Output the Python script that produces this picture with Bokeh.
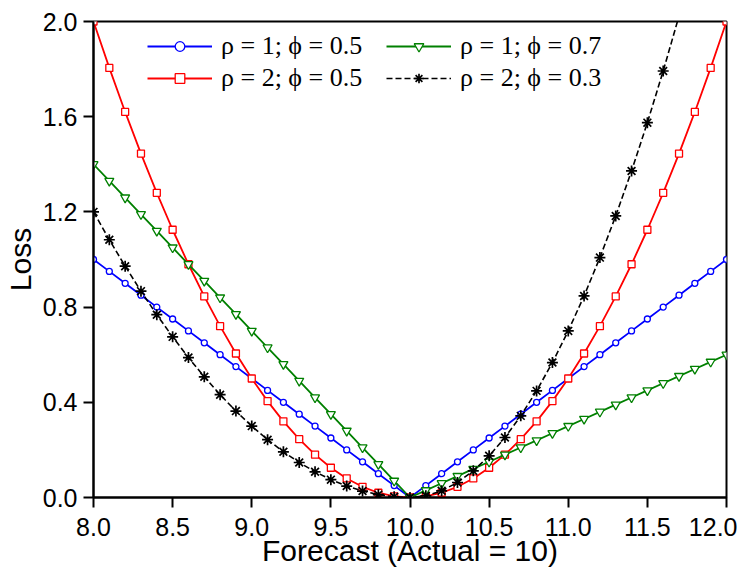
from bokeh.plotting import figure
from bokeh.models import Legend, LegendItem, FixedTicker, ColumnDataSource
from bokeh.embed import file_html
from bokeh.resources import INLINE

forecast = [8.0, 8.1, 8.2, 8.3, 8.4, 8.5, 8.6, 8.7, 8.8, 8.9, 9.0, 9.1, 9.2, 9.3, 9.4, 9.5,
            9.6, 9.7, 9.8, 9.9, 10.0, 10.1, 10.2, 10.3, 10.4, 10.5, 10.6, 10.7, 10.8, 10.9,
            11.0, 11.1, 11.2, 11.3, 11.4, 11.5, 11.6, 11.7, 11.8, 11.9, 12.0]

loss_r1_p05 = [1.0, 0.95, 0.9, 0.85, 0.8, 0.75, 0.7, 0.65, 0.6, 0.55, 0.5, 0.45, 0.4, 0.35, 0.3,
               0.25, 0.2, 0.15, 0.1, 0.05, 0.0, 0.05, 0.1, 0.15, 0.2, 0.25, 0.3, 0.35, 0.4, 0.45,
               0.5, 0.55, 0.6, 0.65, 0.7, 0.75, 0.8, 0.85, 0.9, 0.95, 1.0]
loss_r2_p05 = [2.0, 1.805, 1.62, 1.445, 1.28, 1.125, 0.98, 0.845, 0.72, 0.605, 0.5, 0.405, 0.32,
               0.245, 0.18, 0.125, 0.08, 0.045, 0.02, 0.005, 0.0, 0.005, 0.02, 0.045, 0.08, 0.125,
               0.18, 0.245, 0.32, 0.405, 0.5, 0.605, 0.72, 0.845, 0.98, 1.125, 1.28, 1.445, 1.62,
               1.805, 2.0]
loss_r1_p07 = [1.4, 1.33, 1.26, 1.19, 1.12, 1.05, 0.98, 0.91, 0.84, 0.77, 0.7, 0.63, 0.56, 0.49,
               0.42, 0.35, 0.28, 0.21, 0.14, 0.07, 0.0, 0.03, 0.06, 0.09, 0.12, 0.15, 0.18, 0.21,
               0.24, 0.27, 0.3, 0.33, 0.36, 0.39, 0.42, 0.45, 0.48, 0.51, 0.54, 0.57, 0.6]
loss_r2_p03 = [1.2, 1.083, 0.972, 0.867, 0.768, 0.675, 0.588, 0.507, 0.432, 0.363, 0.3, 0.243,
               0.192, 0.147, 0.108, 0.075, 0.048, 0.027, 0.012, 0.003, 0.0, 0.007, 0.028, 0.063,
               0.112, 0.175, 0.252, 0.343, 0.448, 0.567, 0.7, 0.847, 1.008, 1.183, 1.372, 1.575,
               1.792, 2.023, 2.268, 2.527, 2.8]

labels = ["ρ = 1; ϕ = 0.5", "ρ = 2; ϕ = 0.5", "ρ = 1; ϕ = 0.7", "ρ = 2; ϕ = 0.3"]
x_ticks = [8.0, 8.5, 9.0, 9.5, 10.0, 10.5, 11.0, 11.5, 12.0]
y_ticks = [0.0, 0.4, 0.8, 1.2, 1.6, 2.0]

p = figure(width=737, height=569, x_range=(8.0, 12.0), y_range=(0.0, 2.0),
           output_backend="svg", toolbar_location=None,
           min_border_left=86, min_border_right=11, min_border_top=21, min_border_bottom=67)
p.grid.visible = False
p.outline_line_color = "black"
p.outline_line_width = 2

src = ColumnDataSource(dict(x=forecast, a=loss_r1_p05, b=loss_r2_p05, c=loss_r1_p07, d=loss_r2_p03))

la = p.line("x", "a", source=src, color="#0000ff", line_width=1.8)
ma = p.scatter("x", "a", source=src, marker="circle", size=6, line_color="#0000ff",
               fill_color="white", line_width=1.3)
lb = p.line("x", "b", source=src, color="#ff0000", line_width=1.8)
mb = p.scatter("x", "b", source=src, marker="square", size=7, line_color="#ff0000",
               fill_color="white", line_width=1.3)
lc = p.line("x", "c", source=src, color="#008000", line_width=1.8)
mc = p.scatter("x", "c", source=src, marker="inverted_triangle", size=9, line_color="#008000",
               fill_color="white", line_width=1.3)
ld = p.line("x", "d", source=src, color="black", line_width=1.6, line_dash="6 3")
md = p.scatter("x", "d", source=src, marker="asterisk", size=11, line_color="black",
               line_width=1.7)

for ax in (p.xaxis[0], p.yaxis[0]):
    ax.axis_line_width = 2
    ax.major_tick_line_width = 2
    ax.major_tick_in = 0
    ax.major_tick_out = 10
    ax.minor_tick_line_color = None
    ax.major_label_text_font = "Liberation Sans"
    ax.major_label_text_font_size = "25px"
    ax.major_label_text_color = "black"
    ax.axis_label_text_font = "Liberation Sans"
    ax.axis_label_text_font_size = "30px"
    ax.axis_label_text_font_style = "normal"
    ax.axis_label_text_color = "black"

p.xaxis.ticker = FixedTicker(ticks=x_ticks)
p.yaxis.ticker = FixedTicker(ticks=y_ticks)
p.xaxis.major_label_overrides = {t: f"{t:.1f}" for t in x_ticks}
p.yaxis.major_label_overrides = {t: f"{t:.1f}" for t in y_ticks}
p.xaxis.major_label_standoff = 10
p.yaxis.major_label_standoff = 6
p.xaxis.axis_label = "Forecast (Actual = 10)"
p.yaxis.axis_label = "Loss"
p.xaxis.axis_label_standoff = -5
p.yaxis.axis_label_standoff = 3

positions = [(54, 436), (54, 404), (293, 436), (293, 404)]
renderers = [[la, ma], [lb, mb], [lc, mc], [ld, md]]
for lab, rs, loc in zip(labels, renderers, positions):
    leg = Legend(items=[LegendItem(label=lab, renderers=rs)], location=loc,
                 padding=0, margin=0, spacing=0, border_line_color=None,
                 background_fill_alpha=0, glyph_width=65, glyph_height=24,
                 label_height=24, label_standoff=9,
                 label_text_font="Liberation Serif", label_text_font_size="26px",
                 label_text_color="black")
    p.add_layout(leg, "center")

open("out.html", "w").write(file_html(p, INLINE))
